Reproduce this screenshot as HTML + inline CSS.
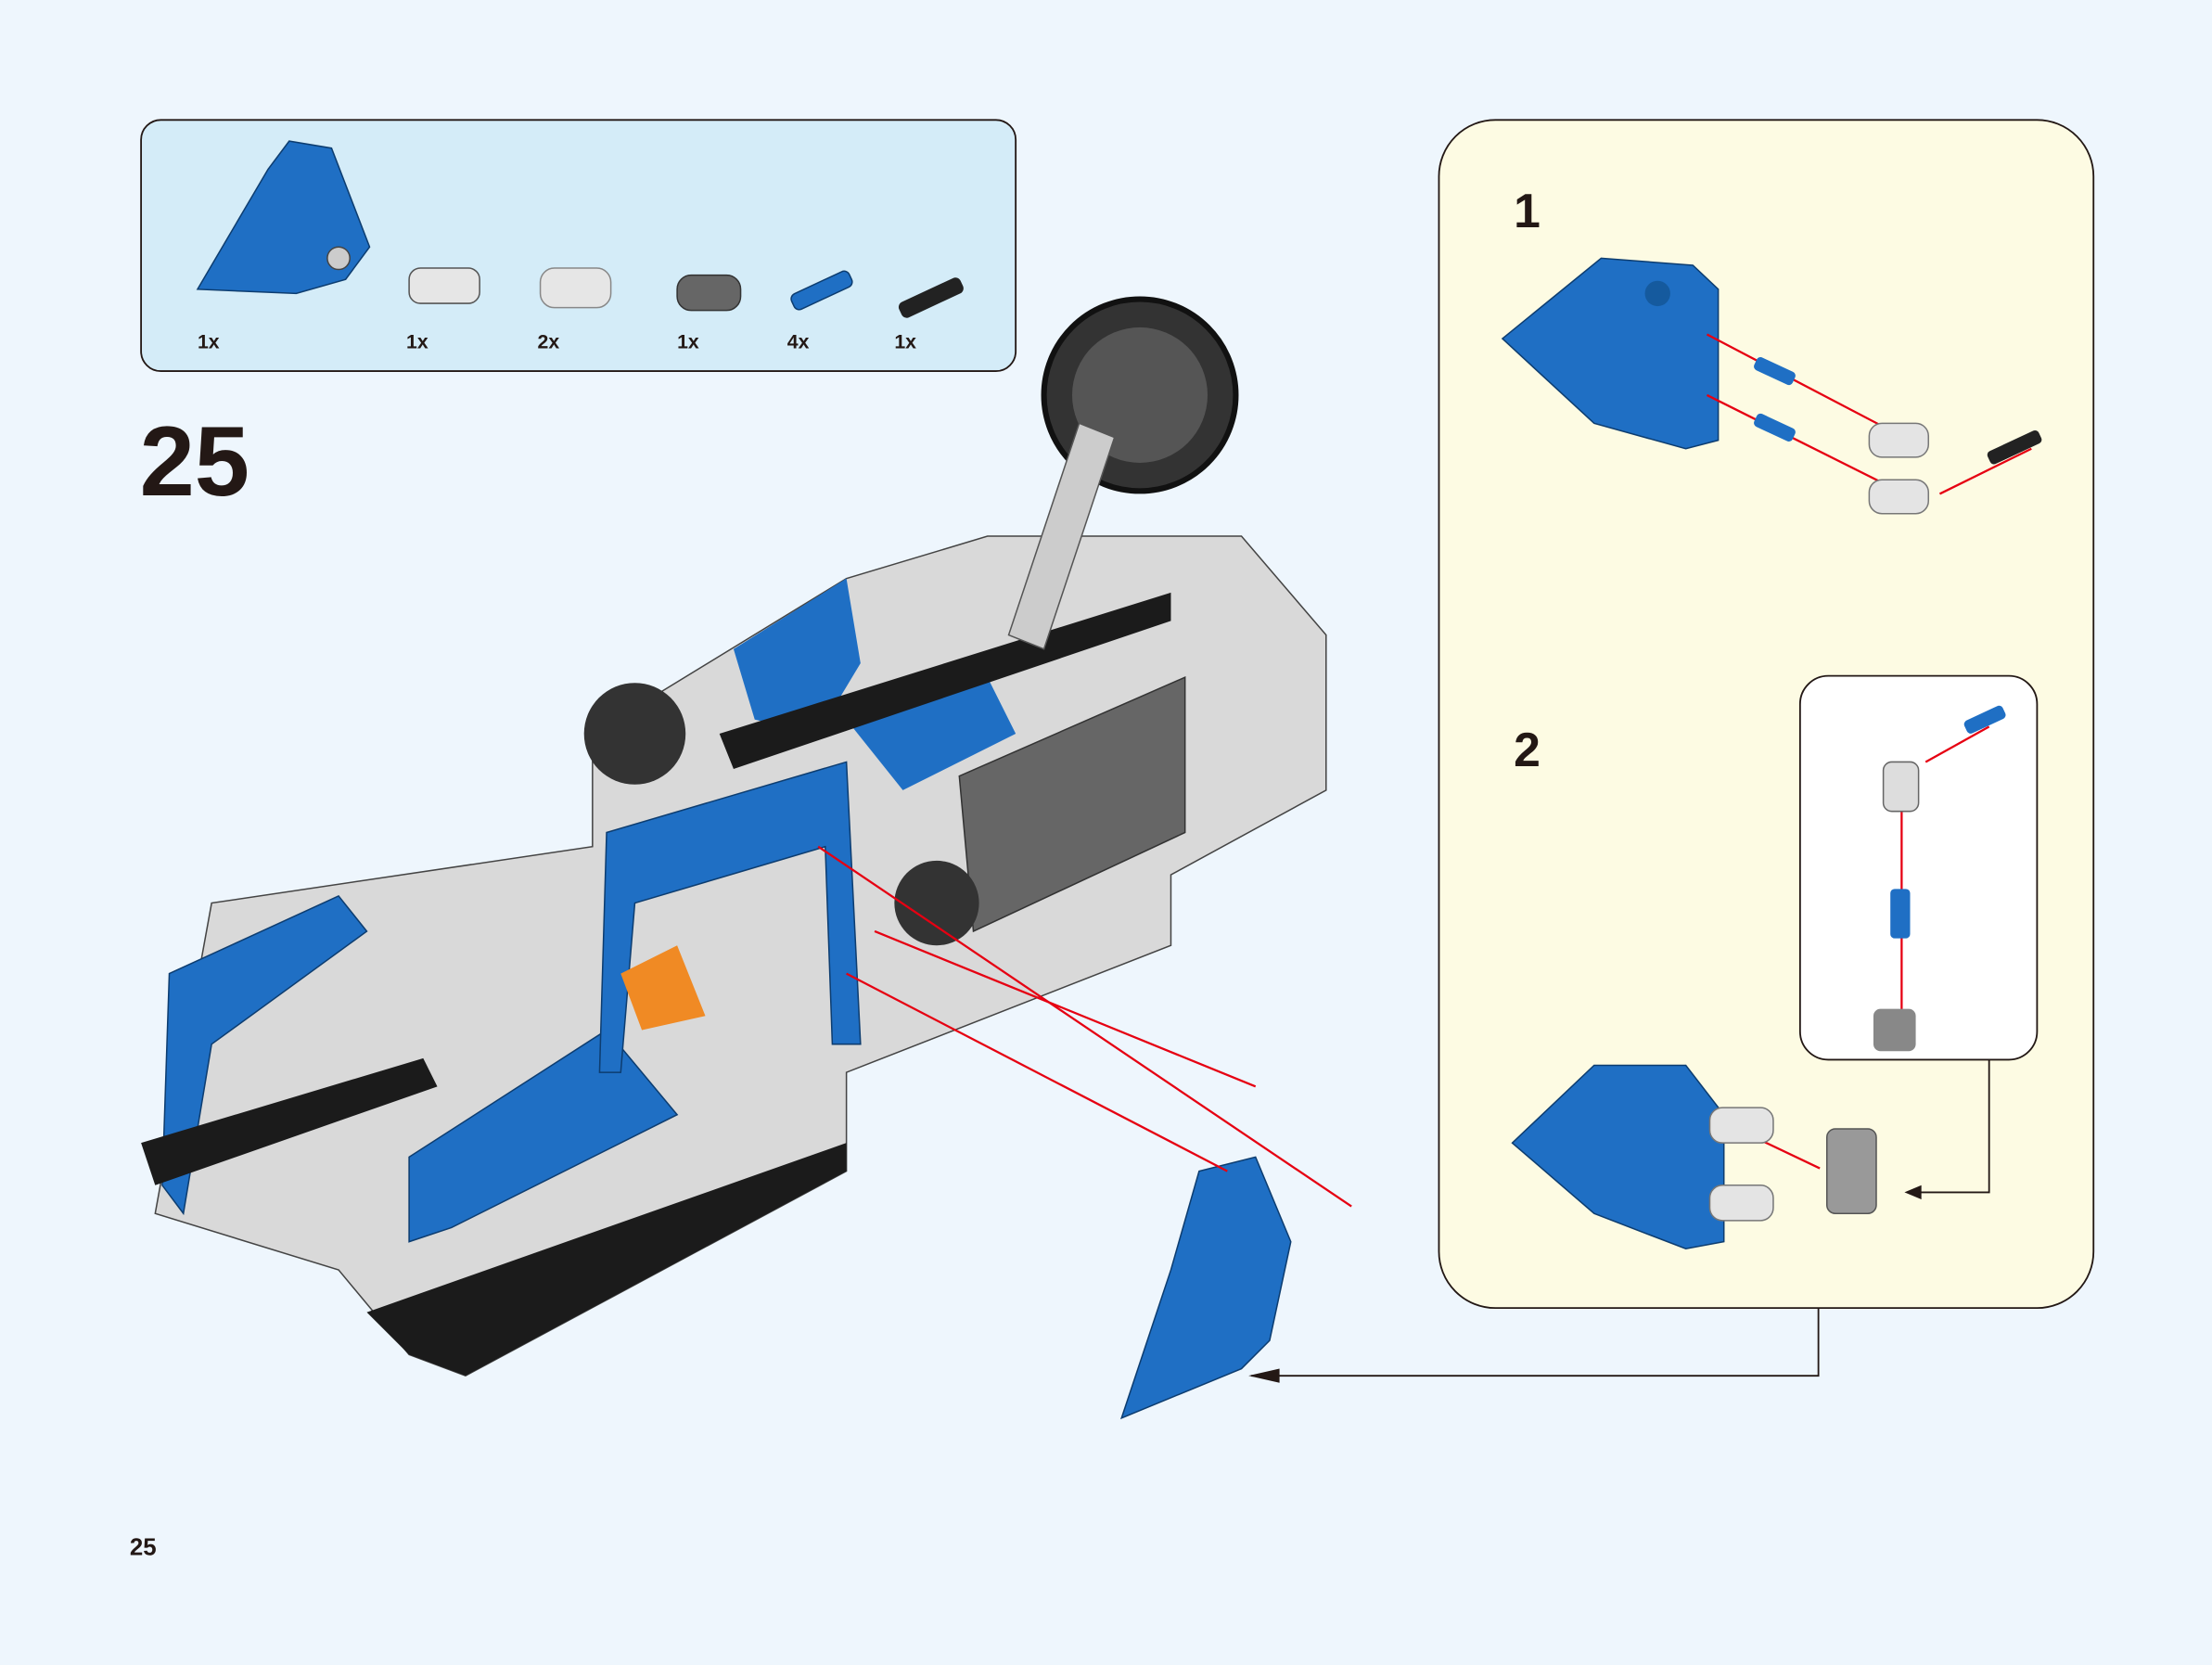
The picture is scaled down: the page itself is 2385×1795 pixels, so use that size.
<!DOCTYPE html>
<html><head><meta charset="utf-8"><style>
html,body{margin:0;padding:0;background:#eef6fd;}
svg{display:block}
text{font-family:"Liberation Sans",Arial,sans-serif;font-weight:bold;fill:#231815}
</style></head><body>
<svg width="2385" height="1795" viewBox="0 0 1568 1180" preserveAspectRatio="none" xmlns="http://www.w3.org/2000/svg">
<rect width="1568" height="1180" fill="#eef6fd"/>
<!-- parts box -->
<rect x="100" y="85" width="620" height="178" rx="14" fill="#d4ecf8" stroke="#231815" stroke-width="1.2"/>
<path d="M140 205 L190 120 L205 100 L235 105 L262 175 L245 198 L210 208 Z" fill="#1f6fc4" stroke="#0d3d70"/>
<circle cx="240" cy="183" r="8" fill="#ccc" stroke="#444"/>
<rect x="290" y="190" width="50" height="25" rx="8" fill="#e6e6e6" stroke="#555"/>
<rect x="383" y="190" width="50" height="28" rx="10" fill="#e6e6e6" stroke="#888"/>
<rect x="480" y="195" width="45" height="25" rx="10" fill="#666" stroke="#333"/>
<rect x="560" y="200" width="45" height="12" rx="4" fill="#1f6fc4" stroke="#0d3d70" transform="rotate(-25 582 206)"/>
<rect x="636" y="205" width="48" height="12" rx="4" fill="#222" transform="rotate(-25 660 211)"/>
<text x="140" y="247" font-size="14">1x</text>
<text x="288" y="247" font-size="14">1x</text>
<text x="381" y="247" font-size="14">2x</text>
<text x="480" y="247" font-size="14">1x</text>
<text x="558" y="247" font-size="14">4x</text>
<text x="634" y="247" font-size="14">1x</text>
<text x="99" y="351" font-size="70">25</text>
<text x="92" y="1102" font-size="17">25</text>
<!-- right panel -->
<rect x="1020" y="85" width="464" height="842" rx="40" fill="#fdfbe3" stroke="#231815" stroke-width="1.2"/>
<text x="1073" y="161" font-size="34">1</text>
<text x="1073" y="543" font-size="34">2</text>
<rect x="1276" y="479" width="168" height="272" rx="20" fill="#fff" stroke="#231815" stroke-width="1.2"/>
<!-- step 1 -->
<path d="M1065 240 L1135 183 L1200 188 L1218 205 L1218 312 L1195 318 L1130 300 Z" fill="#1f6fc4" stroke="#0d3d70"/>
<circle cx="1175" cy="208" r="9" fill="#155a9e"/>
<g stroke="#e60012" stroke-width="1.5" fill="none">
<line x1="1210" y1="237" x2="1340" y2="305"/><line x1="1210" y1="280" x2="1340" y2="345"/><line x1="1440" y1="318" x2="1375" y2="350"/>
</g>
<rect x="1243" y="258" width="30" height="10" rx="3" fill="#1f6fc4" transform="rotate(25 1258 263)"/>
<rect x="1243" y="298" width="30" height="10" rx="3" fill="#1f6fc4" transform="rotate(25 1258 303)"/>
<rect x="1325" y="300" width="42" height="24" rx="9" fill="#e4e4e4" stroke="#777"/>
<rect x="1325" y="340" width="42" height="24" rx="9" fill="#e4e4e4" stroke="#777"/>
<rect x="1408" y="312" width="40" height="10" rx="3" fill="#222" transform="rotate(-25 1428 317)"/>
<!-- step 2 -->
<g stroke="#e60012" stroke-width="1.5" fill="none">
<line x1="1348" y1="560" x2="1348" y2="720"/><line x1="1410" y1="515" x2="1365" y2="540"/><line x1="1290" y1="828" x2="1210" y2="790"/>
</g>
<rect x="1335" y="540" width="25" height="35" rx="6" fill="#ddd" stroke="#666"/>
<rect x="1340" y="630" width="14" height="35" rx="3" fill="#1f6fc4"/>
<rect x="1328" y="715" width="30" height="30" rx="5" fill="#888"/>
<rect x="1392" y="505" width="30" height="10" rx="3" fill="#1f6fc4" transform="rotate(-25 1407 510)"/>
<path d="M1072 810 L1130 755 L1195 755 L1222 790 L1222 880 L1195 885 L1130 860 Z" fill="#1f6fc4" stroke="#0d3d70"/>
<rect x="1212" y="785" width="45" height="25" rx="9" fill="#e4e4e4" stroke="#777"/>
<rect x="1212" y="840" width="45" height="25" rx="9" fill="#e4e4e4" stroke="#777"/>
<rect x="1295" y="800" width="35" height="60" rx="6" fill="#999" stroke="#555"/>
<g stroke="#231815" stroke-width="1.2" fill="none">
<polyline points="1410,751 1410,845 1352,845"/>
<polyline points="1289,927 1289,975 887,975"/>
</g>
<path d="M1350 845 l12 -5 v10 z M885 975 l22 -5 v10 z" fill="#231815"/>
<!-- main model approximation -->
<path d="M110 860 L150 640 L420 600 L420 520 L600 410 L700 380 L880 380 L940 450 L940 560 L830 620 L830 670 L600 760 L600 830 L330 975 L290 960 L240 900 Z" fill="#d9d9d9" stroke="#444"/>
<path d="M120 690 L240 635 L260 660 L150 740 L130 860 L115 840 Z" fill="#1f6fc4" stroke="#0d3d70"/>
<path d="M290 820 L430 730 L480 790 L320 870 L290 880 Z" fill="#1f6fc4" stroke="#0d3d70"/>
<path d="M430 590 L600 540 L610 740 L590 740 L585 600 L450 640 L440 760 L425 760 Z" fill="#1f6fc4" stroke="#0d3d70"/>
<path d="M520 460 L600 410 L610 470 L580 520 L535 510 Z" fill="#1f6fc4"/>
<path d="M600 510 L700 480 L720 520 L640 560 Z" fill="#1f6fc4"/>
<path d="M680 550 L840 480 L840 590 L690 660 Z" fill="#666" stroke="#333"/>
<path d="M260 930 L600 810 L600 830 L330 975 L290 960 Z" fill="#1b1b1b"/>
<path d="M100 810 L300 750 L310 770 L110 840 Z" fill="#1b1b1b"/>
<path d="M510 520 L830 420 L830 440 L520 545 Z" fill="#1b1b1b"/>
<circle cx="808" cy="280" r="68" fill="#333" stroke="#111" stroke-width="4"/>
<circle cx="808" cy="280" r="48" fill="#555"/>
<circle cx="450" cy="520" r="36" fill="#333"/>
<circle cx="664" cy="640" r="30" fill="#333"/>
<path d="M765 300 L790 310 L740 460 L715 450 Z" fill="#ccc" stroke="#555"/>
<path d="M440 690 L480 670 L500 720 L455 730 Z" fill="#f08a24"/>
<path d="M850 830 L890 820 L915 880 L900 950 L880 970 L795 1005 L830 900 Z" fill="#1f6fc4" stroke="#0d3d70"/>
<g stroke="#e60012" stroke-width="1.5">
<line x1="580" y1="600" x2="958" y2="855"/><line x1="600" y1="690" x2="870" y2="830"/><line x1="620" y1="660" x2="890" y2="770"/>
</g>
</svg>
</body></html>
